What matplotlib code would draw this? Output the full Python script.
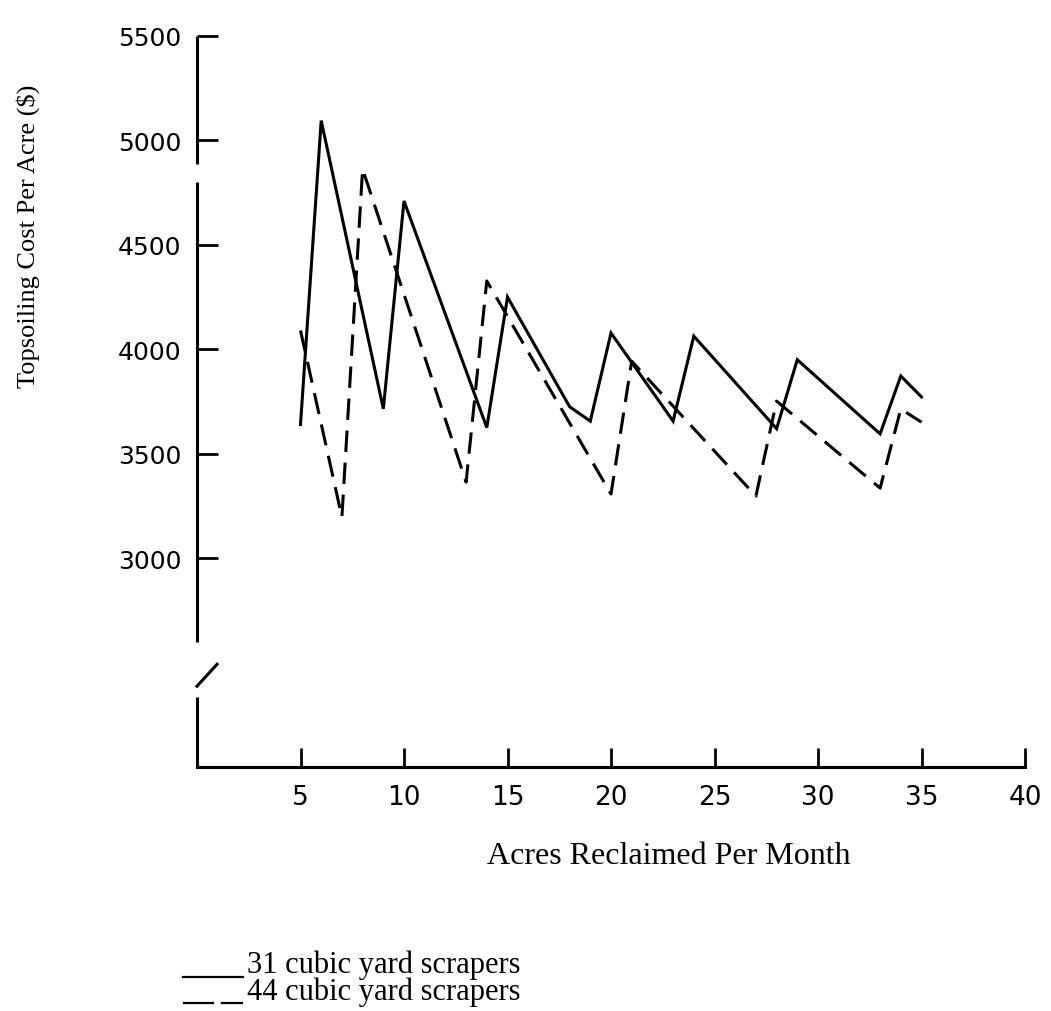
import matplotlib
matplotlib.use("Agg")
import matplotlib.pyplot as plt
from matplotlib.lines import Line2D

# ---- data ----
acres_31 = [5, 6, 9, 10, 14, 15, 18, 19, 20, 23, 24, 28, 29, 33, 34, 35]
cost_31 = [3640, 5095, 3715, 4710, 3625, 4250, 3725, 3656, 4078, 3656, 4063, 3620, 3950, 3595, 3872, 3772]

acres_44 = [5, 7, 8, 13, 14, 20, 21, 27, 28, 33, 34, 35]
cost_44 = [4090, 3196, 4863, 3364, 4327, 3307, 3943, 3297, 3752, 3335, 3714, 3651]

x_ticks = [5, 10, 15, 20, 25, 30, 35, 40]
y_ticks = [3000, 3500, 4000, 4500, 5000, 5500]

series_labels = ["31 cubic yard scrapers", "44 cubic yard scrapers"]

W, H = 1051, 1012
fig = plt.figure(figsize=(W / 100, H / 100), dpi=100)
ax = fig.add_axes([197 / W, 1 - 768 / H, (1025 - 197) / W, (768 - 37) / H])
ax.set_xlim(0, 40)
ax.set_ylim(2000, 5500)

lw = 2.2
ax.plot(acres_31, cost_31, color="black", lw=lw, solid_joinstyle="miter")
ax.plot(acres_44, cost_44, color="black", lw=lw, linestyle=(0, (7, 3.5)))

for s in ["top", "right", "left"]:
    ax.spines[s].set_visible(False)
ax.spines["bottom"].set_linewidth(lw)

# left axis with the break
ytr = ax.get_yaxis_transform()
for y0, y1 in [(4887, 5500), (2598, 4801), (2000, 2334)]:
    ax.plot([0, 0], [y0, y1], color="black", lw=lw, transform=ytr, clip_on=False,
            solid_capstyle="butt")
ax.plot([0, 0.97], [2387, 2492], color="black", lw=lw, clip_on=False)

ax.set_xticks(x_ticks)
ax.set_xticklabels([str(v) for v in x_ticks])
ax.set_yticks(y_ticks)
ax.set_yticklabels([str(v) for v in y_ticks])
ax.tick_params(axis="x", direction="in", length=14, width=2, pad=12, labelsize=19)
ax.tick_params(axis="y", direction="in", length=15, width=2, pad=11, labelsize=18)

serif = ["Liberation Serif", "DejaVu Serif"]
fig.text(28 / W, 1 - 236 / H, "Topsoiling Cost Per Acre ($)", rotation=90,
         ha="center", va="center", fontsize=19, family=serif)
fig.text(669 / W, 1 - 857 / H, "Acres Reclaimed Per Month",
         ha="center", va="center", fontsize=23, family=serif)

# legend drawn below the chart
fig.add_artist(Line2D([183 / W, 243 / W], [1 - 978 / H, 1 - 978 / H], color="black", lw=1.6))
fig.add_artist(Line2D([183 / W, 243 / W], [1 - 1004 / H, 1 - 1004 / H], color="black", lw=1.6,
                      linestyle=(0, (14, 3))))
fig.text(247 / W, 1 - 965 / H, series_labels[0], ha="left", va="center", fontsize=22, family=serif)
fig.text(247 / W, 1 - 992 / H, series_labels[1], ha="left", va="center", fontsize=22, family=serif)

fig.savefig("out.png", dpi=100, facecolor="white")
